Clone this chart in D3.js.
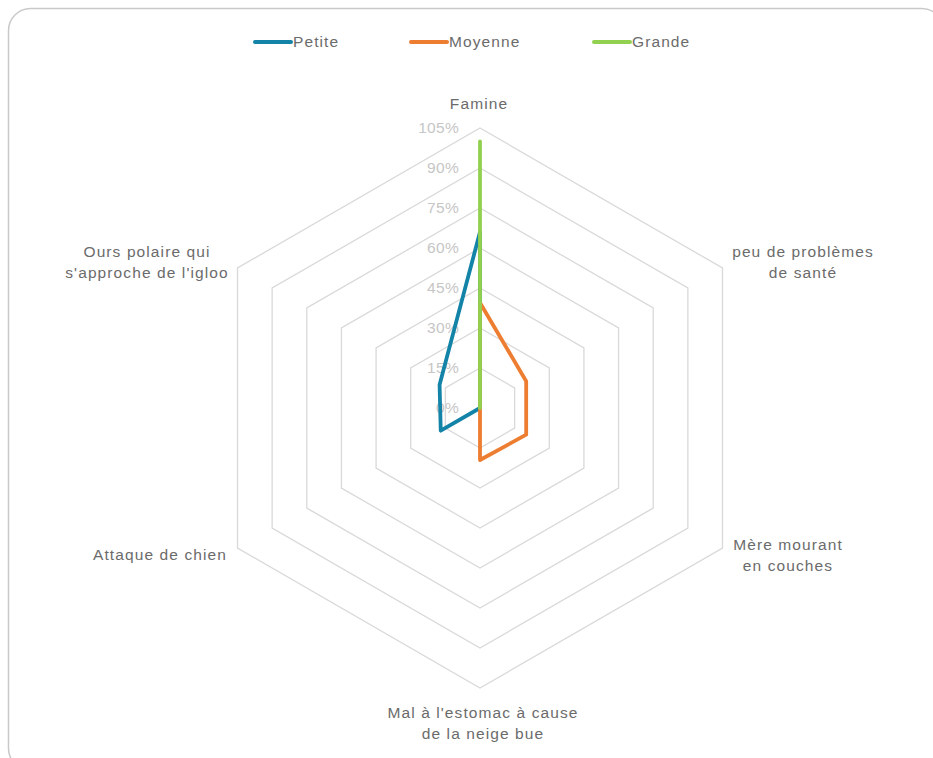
<!DOCTYPE html>
<html>
<head>
<meta charset="utf-8">
<script src="https://cdn.jsdelivr.net/npm/d3@7"></script>
<style>
  body { margin: 0; background: #fff; }
  svg { display: block; font-family: "Liberation Sans", Arial, sans-serif; }
</style>
</head>
<body>
<svg id="chart" width="933" height="758"></svg>
<script>
// axes, clockwise from the top
var categories = [
    ["Famine"],
    ["peu de problèmes", "de santé"],
    ["Mère mourant", "en couches"],
    ["Mal à l'estomac à cause", "de la neige bue"],
    ["Attaque de chien"],
    ["Ours polaire qui", "s'approche de l'igloo"]
];
var seriesNames = ["Petite", "Moyenne", "Grande"];
var petite  = [0.66, 0, 0, 0, 0.17, 0.175];
var moyenne = [0.395, 0.20, 0.20, 0.195, 0, 0];
var grande  = [1.0, 0, 0, 0, 0, 0];
var tickValues = [0, 0.15, 0.30, 0.45, 0.60, 0.75, 0.90, 1.05];

var colors = ["#1384a7", "#ed7d31", "#92d050"];
var allSeries = [petite, moyenne, grande];

var svg = d3.select("#chart");

// rounded frame of the chart area
svg.append("rect")
    .attr("x", 8.5).attr("y", 8.5)
    .attr("width", 935).attr("height", 762)
    .attr("rx", 22)
    .attr("fill", "none")
    .attr("stroke", "#c9c9c9")
    .attr("stroke-width", 1.5);

var cx = 480, cy = 408;

var r = d3.scaleLinear().domain([0, 1.05]).range([0, 280]);
var angle = d3.scaleLinear().domain([0, categories.length]).range([0, 2 * Math.PI]);

function pt(i, v) {
    var a = angle(i);
    return [cx + r(v) * Math.sin(a), cy - r(v) * Math.cos(a)];
}

var g = svg.append("g");

// hexagon grid
tickValues.slice(1).forEach(function(t) {
    var pts = categories.map(function(c, i) { return pt(i, t); });
    g.append("path")
        .attr("d", d3.line()(pts) + "Z")
        .attr("fill", "none")
        .attr("stroke", "#d9d9d9")
        .attr("stroke-width", 1.3);
});

// tick labels
g.selectAll(".tick")
    .data(tickValues)
    .enter().append("text")
    .attr("x", 459)
    .attr("y", function(d) { return cy - r(d); })
    .attr("dy", "0.35em")
    .attr("text-anchor", "end")
    .attr("font-size", 15.5)
    .attr("letter-spacing", 0.3)
    .attr("fill", "#c6c6c6")
    .text(function(d) { return Math.round(d * 100) + "%"; });

// category labels
var labelPos = [[479, 104], [803, 252], [788, 545], [483, 713], [160, 555], [147, 252]];
categories.forEach(function(lines, i) {
    var t = g.append("text")
        .attr("text-anchor", "middle")
        .attr("font-size", 15.5)
        .attr("letter-spacing", 1.1)
        .attr("fill", "#6b6b6b");
    lines.forEach(function(l, k) {
        t.append("tspan")
            .attr("x", labelPos[i][0])
            .attr("y", labelPos[i][1] + k * 21)
            .attr("dy", "0.35em")
            .text(l);
    });
});

// series lines
var line = d3.line().curve(d3.curveLinearClosed);
allSeries.forEach(function(s, j) {
    var pts = s.map(function(v, i) { return pt(i, v); });
    g.append("path")
        .attr("d", line(pts))
        .attr("fill", "none")
        .attr("stroke", colors[j])
        .attr("stroke-width", 3.8)
        .attr("stroke-linejoin", "round")
        .attr("stroke-linecap", "round");
});

// legend
var legendX = [255, 411, 594];
var legend = svg.selectAll(".legend")
    .data(seriesNames)
    .enter().append("g")
    .attr("transform", function(d, i) { return "translate(" + legendX[i] + ",42)"; });
legend.append("line")
    .attr("x1", 0).attr("x2", 36)
    .attr("stroke", function(d, i) { return colors[i]; })
    .attr("stroke-width", 4)
    .attr("stroke-linecap", "round");
legend.append("text")
    .attr("x", 38)
    .attr("dy", "0.35em")
    .attr("font-size", 15.5)
    .attr("letter-spacing", 1.1)
    .attr("fill", "#6b6b6b")
    .text(function(d) { return d; });
</script>
</body>
</html>
